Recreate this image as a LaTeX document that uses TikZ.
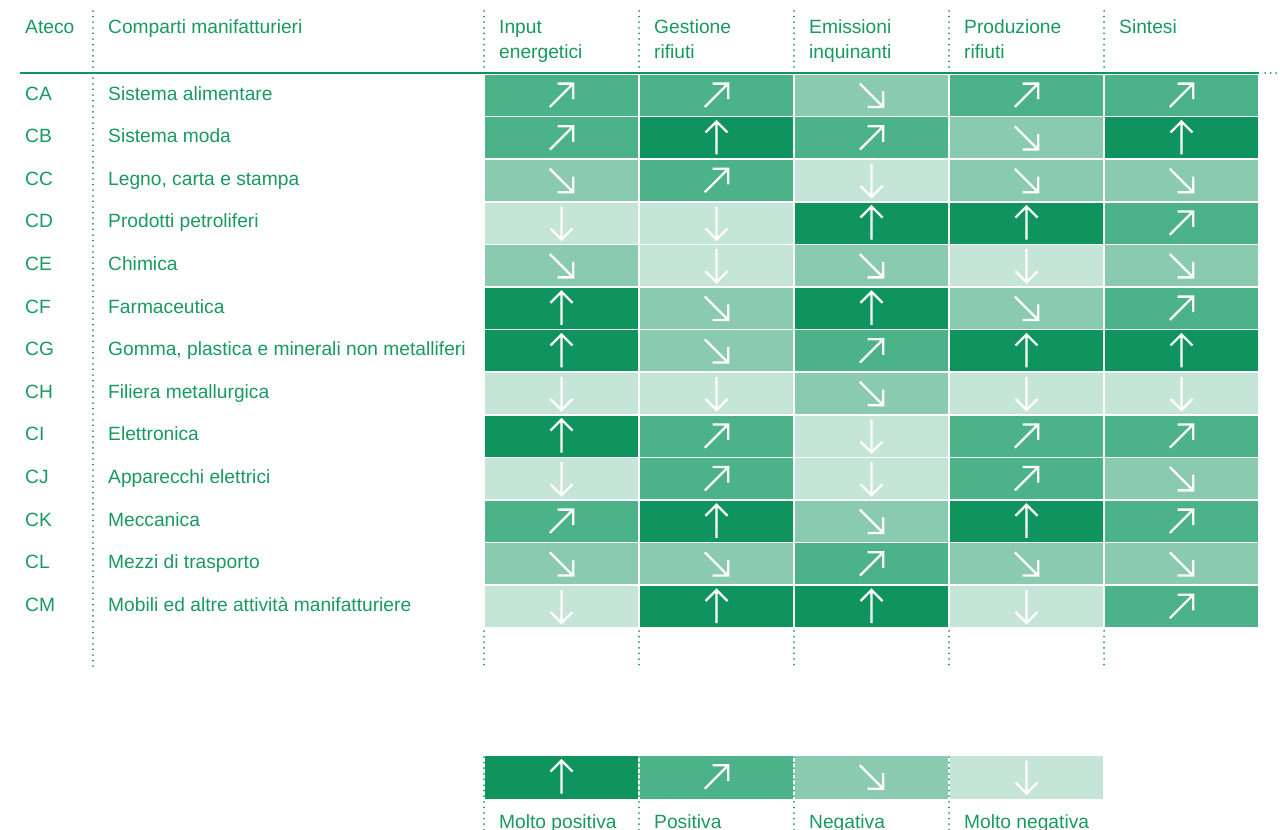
\documentclass[tikz,border=0pt]{standalone}
\usepackage{fontspec}
\setmainfont{Liberation Sans}
\definecolor{lvD}{HTML}{10945E}
\definecolor{lvC}{HTML}{4CB287}
\definecolor{lvB}{HTML}{8ACBAF}
\definecolor{lvA}{HTML}{C4E5D7}
\definecolor{tc}{HTML}{18995F}
\newcommand\lvrot[1]{\ifcase#1\or180\or-135\or-45\or0\fi}
\newcommand\lvcol[1]{\ifcase#1\or lvA\or lvB\or lvC\or lvD\fi}
\tikzset{
  arw/.pic={\draw[white,line width=2.3,line join=miter] (0,16.5)--(0,-16.5) (-11,-5.5)--(0,-16.5)--(11,-5.5);},
  cellbox/.style={draw=none,inner sep=0,minimum width=153.5,minimum height=41},
  txt/.style={text=tc,anchor=base west,inner sep=0,font=\fontsize{19.2}{22}\selectfont},
  dots/.style={draw=tc,line width=2,line cap=round,dash pattern=on 0pt off 5.6pt},
}
\begin{document}
\begin{tikzpicture}[x=1pt,y=-1pt]
\useasboundingbox (0,0) rectangle (1280,830);
% header
\node[txt] (hAteco) at (25,33) {Ateco};
\node[txt] (hComp) at (108,33) {Comparti manifatturieri};
\node[txt] (h1a) at (499,33) {Input};
\node[txt] (h1b) at (499,58) {energetici};
\node[txt] (h2a) at (654,33) {Gestione};
\node[txt] (h2b) at (654,58) {rifiuti};
\node[txt] (h3a) at (809,33) {Emissioni};
\node[txt] (h3b) at (809,58) {inquinanti};
\node[txt] (h4a) at (964,33) {Produzione};
\node[txt] (h4b) at (964,58) {rifiuti};
\node[txt] (h5a) at (1119,33) {Sintesi};
% rules
\draw[dots] (93,11) -- (93,670);
\foreach \x in {484,639,794,949,1104} {
  \draw[dots] (\x,11) -- (\x,70);
  \draw[dots] (\x,631) -- (\x,670);
}
\draw[lvD,line width=2] (20,73) -- (1259,73);
\draw[dots] (1265,73) -- (1280,73);
% rows
\foreach \code/\name/\vals [count=\i from 0] in {
  CA/{Sistema alimentare}/{3,3,2,3,3},
  CB/{Sistema moda}/{3,4,3,2,4},
  CC/{Legno, carta e stampa}/{2,3,1,2,2},
  CD/{Prodotti petroliferi}/{1,1,4,4,3},
  CE/{Chimica}/{2,1,2,1,2},
  CF/{Farmaceutica}/{4,2,4,2,3},
  CG/{Gomma, plastica e minerali non metalliferi}/{4,2,3,4,4},
  CH/{Filiera metallurgica}/{1,1,2,1,1},
  CI/{Elettronica}/{4,3,1,3,3},
  CJ/{Apparecchi elettrici}/{1,3,1,3,2},
  CK/{Meccanica}/{3,4,2,4,3},
  CL/{Mezzi di trasporto}/{2,2,3,2,2},
  CM/{Mobili ed altre attività manifatturiere}/{1,4,4,1,3}} {
  \node[txt] (code\i) at (25,{100+42.6*\i}) {\code};
  \node[txt] (name\i) at (108,{100+42.6*\i}) {\name};
  \foreach \v [count=\j from 0] in \vals {
    \node[cellbox,fill=\lvcol{\v}] (c\i-\j) at ({484+155*\j+77.5},{74.8+42.6*\i+20.5}) {};
    \pic[rotate=\lvrot{\v}] at (c\i-\j) {arw};
  }
}
% legend
\foreach \x in {484,639,794,949} {
  \draw[dots] (\x,757) -- (\x,830);
}
\foreach \v/\lab [count=\j from 0] in {4/Molto positiva,3/Positiva,2/Negativa,1/Molto negativa} {
  \node[cellbox,minimum height=43,fill=\lvcol{\v}] (leg\j) at ({484+155*\j+77.5},777) {};
  \pic[rotate=\lvrot{\v}] at (leg\j) {arw};
  \node[txt] (legt\j) at ({499+155*\j},828) {\lab};
}
\end{tikzpicture}
\end{document}
